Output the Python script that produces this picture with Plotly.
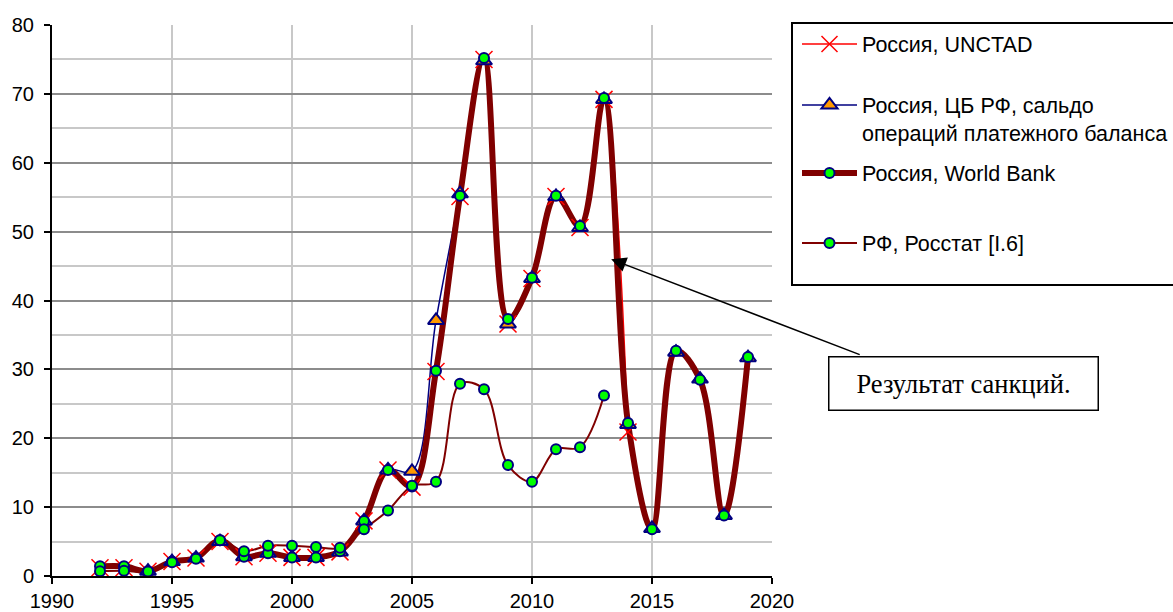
import plotly.graph_objects as go

# --- data (bn USD) ---
years_unctad = [1992, 1993, 1994, 1995, 1996, 1997, 1998, 1999, 2000, 2001, 2002,
                2003, 2004, 2005, 2006, 2007, 2008, 2009, 2010, 2011, 2012, 2013, 2014]
unctad = [1.2, 1.2, 0.7, 2.1, 2.6, 5.0, 2.8, 3.3, 2.7, 2.7, 3.5,
          8.0, 15.4, 12.9, 29.7, 55.1, 75.0, 36.6, 43.2, 55.1, 50.6, 69.2, 20.9]

years_cb = [1994, 1995, 1996, 1997, 1998, 1999, 2000, 2001, 2002, 2003, 2004, 2005, 2006,
            2007, 2008, 2009, 2010, 2011, 2012, 2013, 2014, 2015, 2016, 2017, 2018, 2019]
cb = [0.7, 2.1, 2.6, 5.0, 2.8, 3.3, 2.7, 2.7, 3.5, 8.0, 15.4, 15.2, 37.1,
      55.5, 74.8, 36.6, 43.2, 55.1, 50.6, 69.2, 22.0, 6.9, 32.5, 28.6, 8.8, 31.7]

years_wb = [1992, 1993, 1994, 1995, 1996, 1997, 1998, 1999, 2000, 2001, 2002, 2003, 2004, 2005,
            2006, 2007, 2008, 2009, 2010, 2011, 2012, 2013, 2014, 2015, 2016, 2017, 2018, 2019]
wb = [1.4, 1.4, 0.7, 2.1, 2.6, 5.2, 2.8, 3.3, 2.7, 2.7, 3.6, 8.0, 15.4, 13.0,
      29.8, 55.2, 75.2, 37.3, 43.3, 55.2, 50.8, 69.4, 22.2, 6.8, 32.7, 28.5, 8.8, 31.8]

years_rs = [1992, 1993, 1994, 1995, 1996, 1997, 1998, 1999, 2000, 2001, 2002,
            2003, 2004, 2005, 2006, 2007, 2008, 2009, 2010, 2011, 2012, 2013]
rosstat = [0.7, 0.75, 0.65, 2.0, 2.5, 5.2, 3.6, 4.4, 4.4, 4.2, 4.1,
           6.8, 9.5, 13.1, 13.7, 27.9, 27.1, 16.1, 13.7, 18.4, 18.7, 26.2]

names = ['Россия, UNCTAD',
         'Россия, ЦБ РФ, сальдо<br>операций платежного баланса',
         'Россия, World Bank',
         'РФ, Росстат [I.6]']
note = 'Результат санкций.'

# --- geometry helpers (pixels -> paper) ---
W, H = 1173, 612
L, R, T, B = 52, 401, 25, 36
PW, PH = W - L - R, H - T - B
def px(x):
    return (x - L) / PW
def py(y):
    return (H - B - y) / PH

FONT = 'Liberation Sans, Arial, sans-serif'
NAVY = '#000080'
MAROON = '#800000'
circ = dict(symbol='circle', size=10, color='#00FF00', line=dict(color=NAVY, width=2))
tri = dict(symbol='triangle-up', size=14, color='#FF9900', line=dict(color=NAVY, width=2))
xm = dict(symbol='x-thin', size=17, line=dict(color='#FF0000', width=1.5))

fig = go.Figure()
spl = dict(shape='spline', smoothing=1)
# lines
fig.add_trace(go.Scatter(x=years_unctad, y=unctad, mode='lines', showlegend=False,
                         line=dict(color='#FF0000', width=1.5, **spl), hoverinfo='skip'))
fig.add_trace(go.Scatter(x=years_cb, y=cb, mode='lines', showlegend=False,
                         line=dict(color=NAVY, width=1.5, **spl), hoverinfo='skip'))
fig.add_trace(go.Scatter(x=years_wb, y=wb, mode='lines', showlegend=False,
                         line=dict(color=MAROON, width=6, **spl), hoverinfo='skip'))
fig.add_trace(go.Scatter(x=years_rs, y=rosstat, mode='lines', showlegend=False,
                         line=dict(color=MAROON, width=2, **spl), hoverinfo='skip'))
# markers
fig.add_trace(go.Scatter(x=years_unctad, y=unctad, mode='markers', showlegend=False, marker=xm))
fig.add_trace(go.Scatter(x=years_cb, y=cb, mode='markers', showlegend=False, marker=tri))
fig.add_trace(go.Scatter(x=years_wb, y=wb, mode='markers', showlegend=False, marker=circ))
fig.add_trace(go.Scatter(x=years_rs, y=rosstat, mode='markers', showlegend=False, marker=circ))

# legend entries
leg_styles = [
    (dict(color='#FF0000', width=1.5), xm),
    (dict(color=NAVY, width=1.5), tri),
    (dict(color=MAROON, width=6), circ),
    (dict(color=MAROON, width=2), circ),
]
leg_ids = ['legend', 'legend2', 'legend3', 'legend4']
for name, (ln, mk), lid in zip(names, leg_styles, leg_ids):
    fig.add_trace(go.Scatter(x=[None], y=[None], mode='lines+markers', name=name,
                             line=ln, marker=mk, legend=lid))

leg_common = dict(xanchor='left', yanchor='middle', bgcolor='rgba(0,0,0,0)', borderwidth=0,
                  font=dict(family=FONT, size=21.5, color='black'), itemwidth=55, x=px(797))
fig.update_layout(
    legend=dict(y=py(44), **leg_common),
    legend2=dict(y=py(119), valign='top', **leg_common),
    legend3=dict(y=py(173), **leg_common),
    legend4=dict(y=py(243), **leg_common),
)

# legend frame
fig.add_shape(type='rect', xref='paper', yref='paper', x0=px(792), x1=px(1185),
              y0=py(285), y1=py(23), line=dict(color='black', width=2), layer='below')

# callout
fig.add_annotation(xref='paper', yref='paper', x=px(963), y=py(383), text=note,
                   xanchor='center', yanchor='middle',
                   showarrow=False, width=268, height=52, borderpad=0,
                   bordercolor='black', borderwidth=1.5, bgcolor='white',
                   font=dict(family='Liberation Serif, Times New Roman, serif', size=26.5, color='black'))
fig.add_annotation(x=2013.3, y=46.0, xref='x', yref='y', text='', showarrow=True,
                   axref='pixel', ayref='pixel', ax=250, ay=96,
                   arrowhead=2, arrowsize=2, arrowwidth=1.5, arrowcolor='black')

fig.update_layout(
    width=W, height=H,
    margin=dict(l=L, r=R, t=T, b=B, autoexpand=False),
    paper_bgcolor='white', plot_bgcolor='white',
    font=dict(family=FONT, size=20, color='black'),
    xaxis=dict(range=[1990, 2020], dtick=5, tick0=1990, showgrid=True,
               gridcolor='#C8C8C8', gridwidth=2, zeroline=False, automargin=False,
               showline=True, linecolor='black', linewidth=2,
               ticks='outside', ticklen=6, tickwidth=2, tickcolor='black',
               ticklabelstandoff=0),
    yaxis=dict(range=[0, 80], dtick=10, showgrid=True, gridcolor='#8C8C8C', gridwidth=2,
               zeroline=False, showline=True, linecolor='black', linewidth=2, automargin=False,
               ticks='outside', ticklen=6, tickwidth=2, tickcolor='black',
               ticklabelstandoff=6,
               minor=dict(dtick=5, showgrid=True, gridcolor='#C8C8C8', gridwidth=2, ticks='')),
)

fig.write_html('out.html', config={'displayModeBar': False},
               post_script="document.body.style.margin='0';")
